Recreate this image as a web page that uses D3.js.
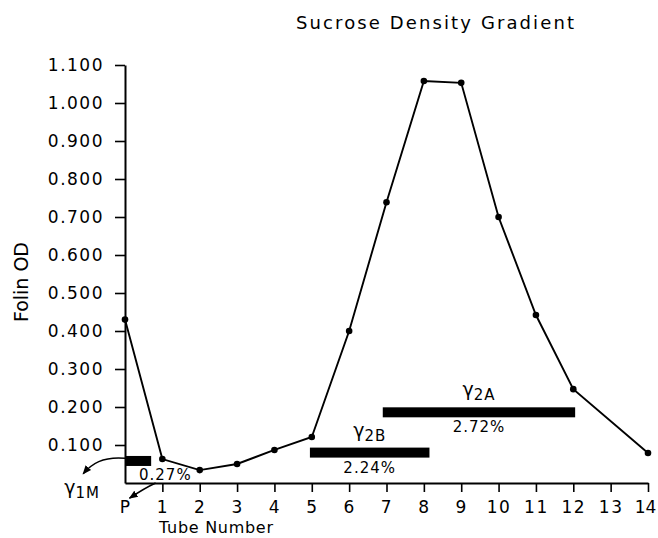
<!DOCTYPE html>
<html>
<head>
<meta charset="utf-8">
<script src="https://cdn.jsdelivr.net/npm/d3@7"></script>
<style>
  body { margin: 0; background: #fff; }
  svg { display: block; font-family: "DejaVu Sans", sans-serif; }
</style>
</head>
<body>
<div id="chart"></div>
<script>
// tubes along the gradient, P = pellet
const tubes = ["P", "1", "2", "3", "4", "5", "6", "7", "8", "9", "10", "11", "12", "13", "14"];
// Folin OD per tube (no reading for tube 13)
const folinOD = [0.43, 0.063, 0.034, 0.05, 0.087, 0.121, 0.40, 0.739, 1.058, 1.053, 0.70, 0.442, 0.247, null, 0.079];
const yTicks = [0.1, 0.2, 0.3, 0.4, 0.5, 0.6, 0.7, 0.8, 0.9, 1.0, 1.1];

// fraction bars
const fracName  = ["1M", "2B", "2A"];
const fracStart = [0, 4.95, 6.9];
const fracEnd   = [0.7, 8.15, 12.05];
const fracLevel = [0.058, 0.08, 0.186];
const fracPct   = ["0.27%", "2.24%", "2.72%"];

const width = 658, height = 538;
const x = d3.scaleLinear().domain([0, 14]).range([125, 648]);
const y = d3.scaleLinear().domain([0, 1.1]).range([483, 65]);

const svg = d3.select("#chart").append("svg")
    .attr("width", width)
    .attr("height", height);

svg.append("defs").append("marker")
    .attr("id", "arrow")
    .attr("viewBox", "0 -5 10 10")
    .attr("refX", 9).attr("refY", 0)
    .attr("markerWidth", 9).attr("markerHeight", 9)
    .attr("markerUnits", "userSpaceOnUse")
    .attr("orient", "auto")
  .append("path")
    .attr("d", "M0,-4L10,0L0,4Z")
    .attr("fill", "#000");

// title
svg.append("text")
    .attr("x", 435).attr("y", 29)
    .attr("text-anchor", "middle")
    .attr("font-size", 18)
    .attr("textLength", 278).attr("lengthAdjust", "spacing")
    .text("Sucrose Density Gradient");

// axes
const yAxis = svg.append("g")
    .attr("transform", `translate(${x(0)},0)`)
    .call(d3.axisLeft(y).tickValues(yTicks).tickSize(10).tickPadding(11)
        .tickSizeOuter(0).tickFormat(d3.format(".3f")));

const xAxis = svg.append("g")
    .attr("transform", `translate(0,${y(0)})`)
    .call(d3.axisBottom(x).tickValues(d3.range(tubes.length)).tickSize(9).tickPadding(9)
        .tickSizeOuter(0).tickFormat(i => tubes[i]));

xAxis.selectAll(".tick").filter(d => d === 0).select("line").remove();

[xAxis, yAxis].forEach(g => {
    g.attr("font-family", null).attr("font-size", 17);
    g.select(".domain").attr("stroke-width", 2);
    g.selectAll(".tick line").attr("stroke-width", 1.6);
    g.selectAll(".tick text").attr("letter-spacing", 1.5).attr("fill", "#000");
});

// last label sits right on the edge
xAxis.selectAll(".tick").filter(d => d === tubes.length - 1).select("text")
    .attr("letter-spacing", 0)
    .attr("dx", -3);

svg.append("text")
    .attr("x", 216).attr("y", 533)
    .attr("text-anchor", "middle")
    .attr("font-size", 16)
    .attr("textLength", 114).attr("lengthAdjust", "spacing")
    .text("Tube Number");

svg.append("text")
    .attr("transform", "translate(28,282) rotate(-90)")
    .attr("text-anchor", "middle")
    .attr("font-size", 19)
    .attr("textLength", 80).attr("lengthAdjust", "spacing")
    .text("Folin OD");

// curve
const pts = folinOD.map((v, i) => [i, v]).filter(d => d[1] !== null);

svg.append("path")
    .datum(pts)
    .attr("fill", "none")
    .attr("stroke", "#000")
    .attr("stroke-width", 1.9)
    .attr("d", d3.line().x(d => x(d[0])).y(d => y(d[1])));

svg.selectAll(".pt")
    .data(pts)
    .enter().append("circle")
    .attr("class", "pt")
    .attr("cx", d => x(d[0]))
    .attr("cy", d => y(d[1]))
    .attr("r", 3.3)
    .attr("fill", "#000");

// fraction bars
const barH = 10;
svg.selectAll(".frac")
    .data(fracName)
    .enter().append("rect")
    .attr("class", "frac")
    .attr("x", (d, i) => x(fracStart[i]))
    .attr("y", (d, i) => y(fracLevel[i]) - barH / 2)
    .attr("width", (d, i) => x(fracEnd[i]) - x(fracStart[i]))
    .attr("height", barH)
    .attr("fill", "#000");

function gammaLabel(cx, cy, sub) {
    const t = svg.append("text")
        .attr("x", cx).attr("y", cy)
        .attr("text-anchor", "middle");
    t.append("tspan").attr("font-size", 19).text("γ");
    t.append("tspan").attr("font-size", 15).attr("dy", 4).attr("letter-spacing", 1).text(sub);
}

fracName.forEach((name, i) => {
    if (i === 0) return;
    const cx = (x(fracStart[i]) + x(fracEnd[i])) / 2;
    const top = y(fracLevel[i]) - barH / 2;
    gammaLabel(cx, top - 11, name);
    svg.append("text")
        .attr("x", cx).attr("y", top + barH + 15)
        .attr("text-anchor", "middle")
        .attr("font-size", 15)
        .attr("letter-spacing", 1)
        .text(fracPct[i]);
});

// 1M fraction sits at the pellet, labelled off to the side
gammaLabel(x(-1.15), y(-0.03), fracName[0]);
svg.append("text")
    .attr("x", x(1.08)).attr("y", y(0.008))
    .attr("text-anchor", "middle")
    .attr("font-size", 15)
    .attr("letter-spacing", 1)
    .text(fracPct[0]);

svg.append("path")
    .attr("fill", "none")
    .attr("stroke", "#000")
    .attr("stroke-width", 1.5)
    .attr("marker-end", "url(#arrow)")
    .attr("d", `M${x(0)},${y(0.065)} C${x(-0.6)},${y(0.07)} ${x(-0.9)},${y(0.05)} ${x(-1.12)},${y(0.024)}`);

svg.append("path")
    .attr("fill", "none")
    .attr("stroke", "#000")
    .attr("stroke-width", 1.5)
    .attr("marker-end", "url(#arrow)")
    .attr("d", `M${x(0.82)},${y(0)} C${x(0.6)},${y(-0.01)} ${x(0.35)},${y(-0.025)} ${x(0.12)},${y(-0.04)}`);
</script>
</body>
</html>
